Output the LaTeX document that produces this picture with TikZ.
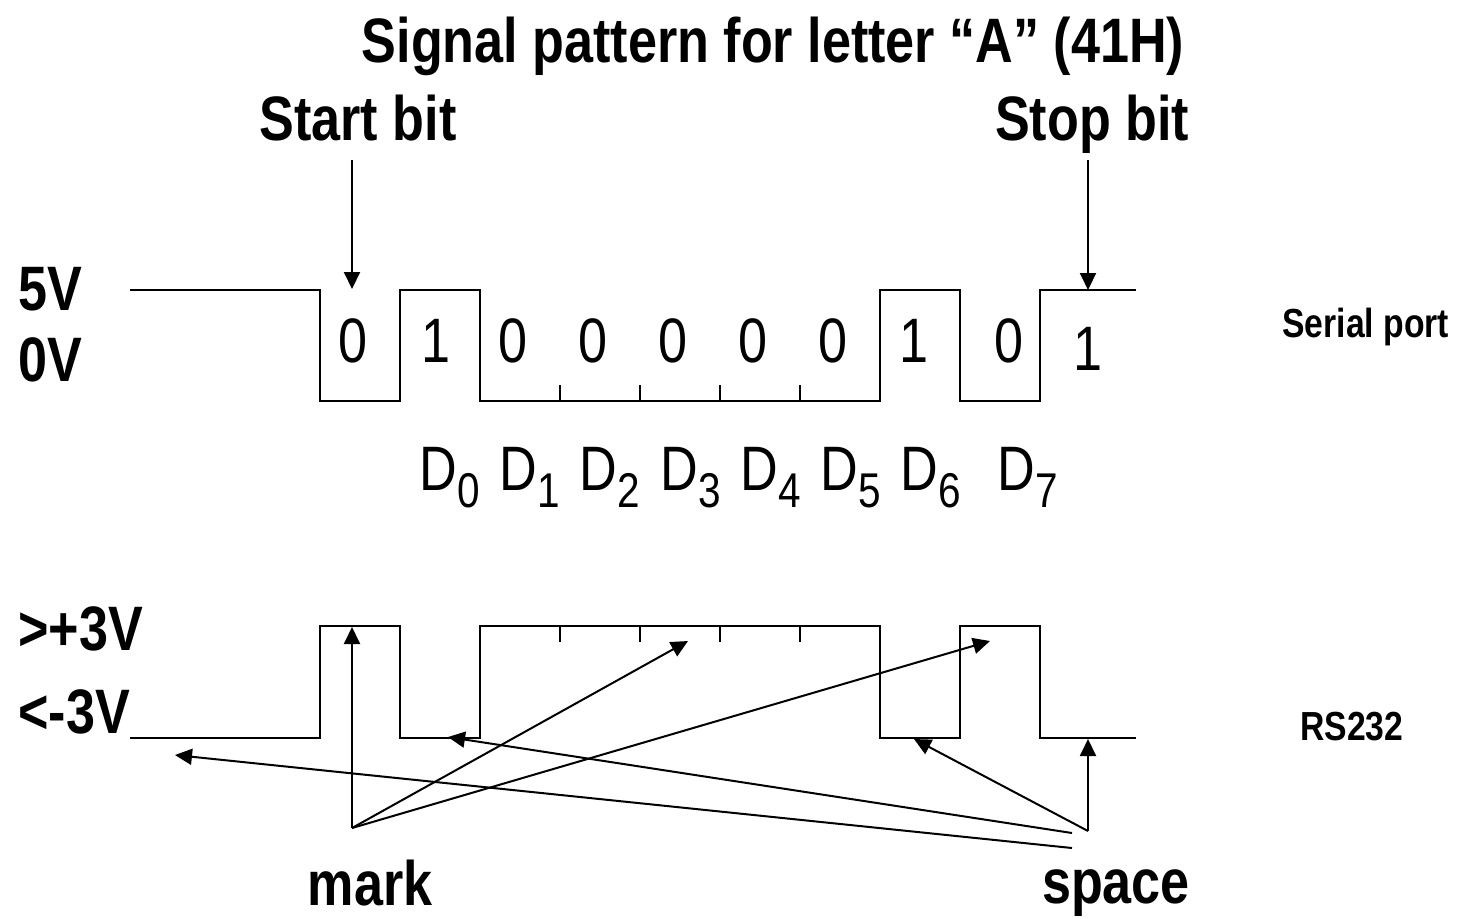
\documentclass[tikz,border=0pt]{standalone}
\usepackage{fontspec}
\setmainfont[FakeStretch=0.83]{Liberation Sans}
\usetikzlibrary{arrows.meta}
\begin{document}
\begin{tikzpicture}[x=0.5pt,y=-0.5pt,
  wave/.style={line width=1pt, line join=miter},
  tick/.style={line width=1pt},
  ptr/.style={line width=1pt,-{Triangle[length=8.5pt,width=8pt]}},
  big/.style={font=\bfseries\fontsize{31.4}{36}\selectfont, inner sep=0},
  small/.style={font=\bfseries\fontsize{20.3}{24}\selectfont, inner sep=0},
  bitval/.style={font=\fontsize{31.4}{36}\selectfont, inner sep=0},
  dlab/.style={font=\fontsize{31.4}{36}\selectfont, inner sep=0, anchor=base west},
]
\useasboundingbox (0,0) rectangle (1471,918);
\newcommand{\dsub}[1]{D\raisebox{-8.5pt}{\fontsize{24.4}{26}\selectfont #1}}

% headings
\node[big, anchor=base] (title) at (773,62) {Signal pattern for letter “A” (41H)};
\node[big, anchor=base] (startbit) at (358,140) {Start bit};
\node[big, anchor=base] (stopbit) at (1092,140) {Stop bit};

% level labels
\node[big, anchor=base west] (v5) at (18,310) {5V};
\node[big, anchor=base west] (v0) at (18,381) {0V};
\node[big, anchor=base west] (vp3) at (18,650) {>+3V};
\node[big, anchor=base west] (vm3) at (18,733) {<-3V};
\node[small, anchor=base west] (serial) at (1282,337) {Serial port};
\node[small, anchor=base west] (rs232) at (1300,740) {RS232};

% serial port waveform (TTL levels)
\draw[wave] (130,290) -- (320,290) -- (320,401) -- (400,401) -- (400,290)
  -- (480,290) -- (480,401) -- (880,401) -- (880,290) -- (960,290)
  -- (960,401) -- (1040,401) -- (1040,290) -- (1136,290);
\foreach \x in {560,640,720,800} \draw[tick] (\x,401) -- (\x,385);

% bit values
\node[bitval, anchor=base] (b0) at (353,362) {0};
\node[bitval, anchor=base] (b1) at (436,362) {1};
\node[bitval, anchor=base] (b2) at (513,362) {0};
\node[bitval, anchor=base] (b3) at (593,362) {0};
\node[bitval, anchor=base] (b4) at (673,362) {0};
\node[bitval, anchor=base] (b5) at (753,362) {0};
\node[bitval, anchor=base] (b6) at (833,362) {0};
\node[bitval, anchor=base] (b7) at (914,362) {1};
\node[bitval, anchor=base] (b8) at (1009,362) {0};
\node[bitval, anchor=base] (b9) at (1088,370) {1};

% data bit names
\node[dlab] (d0) at (419,490) {\dsub{0}};
\node[dlab] (d1) at (499,490) {\dsub{1}};
\node[dlab] (d2) at (579,490) {\dsub{2}};
\node[dlab] (d3) at (660,490) {\dsub{3}};
\node[dlab] (d4) at (740,490) {\dsub{4}};
\node[dlab] (d5) at (820,490) {\dsub{5}};
\node[dlab] (d6) at (900,490) {\dsub{6}};
\node[dlab] (d7) at (997,490) {\dsub{7}};

% RS232 waveform (inverted levels)
\draw[wave] (130,738) -- (320,738) -- (320,626) -- (400,626) -- (400,738)
  -- (480,738) -- (480,626) -- (880,626) -- (880,738) -- (960,738)
  -- (960,626) -- (1040,626) -- (1040,738) -- (1136,738);
\foreach \x in {560,640,720,800} \draw[tick] (\x,626) -- (\x,642);

% bottom labels
\node[big, anchor=base] (mark) at (370,905) {mark};
\node[big, anchor=base] (space) at (1116,903) {space};

% pointer anchors
\coordinate (startsrc) at (352,160);
\coordinate (starttgt) at (352,289);
\coordinate (stopsrc) at (1088,160);
\coordinate (stoptgt) at (1088,290);
\coordinate (markpt) at (352,828);
\coordinate (spacept) at (1088,831);
\coordinate (spacea) at (1072,833);
\coordinate (spaceb) at (1072,848);
\coordinate (m1) at (352,627);
\coordinate (m2) at (688,641);
\coordinate (m3) at (990,641);
\coordinate (s1) at (1088,739);
\coordinate (s2) at (914,739);
\coordinate (s3) at (448,737);
\coordinate (s4) at (175,755);

\draw[ptr] (startsrc) -- (starttgt);
\draw[ptr] (stopsrc) -- (stoptgt);
\draw[ptr] (markpt) -- (m1);
\draw[ptr] (markpt) -- (m2);
\draw[ptr] (markpt) -- (m3);
\draw[ptr] (spacept) -- (s1);
\draw[ptr] (spacept) -- (s2);
\draw[ptr] (spacea) -- (s3);
\draw[ptr] (spaceb) -- (s4);
\end{tikzpicture}
\end{document}
